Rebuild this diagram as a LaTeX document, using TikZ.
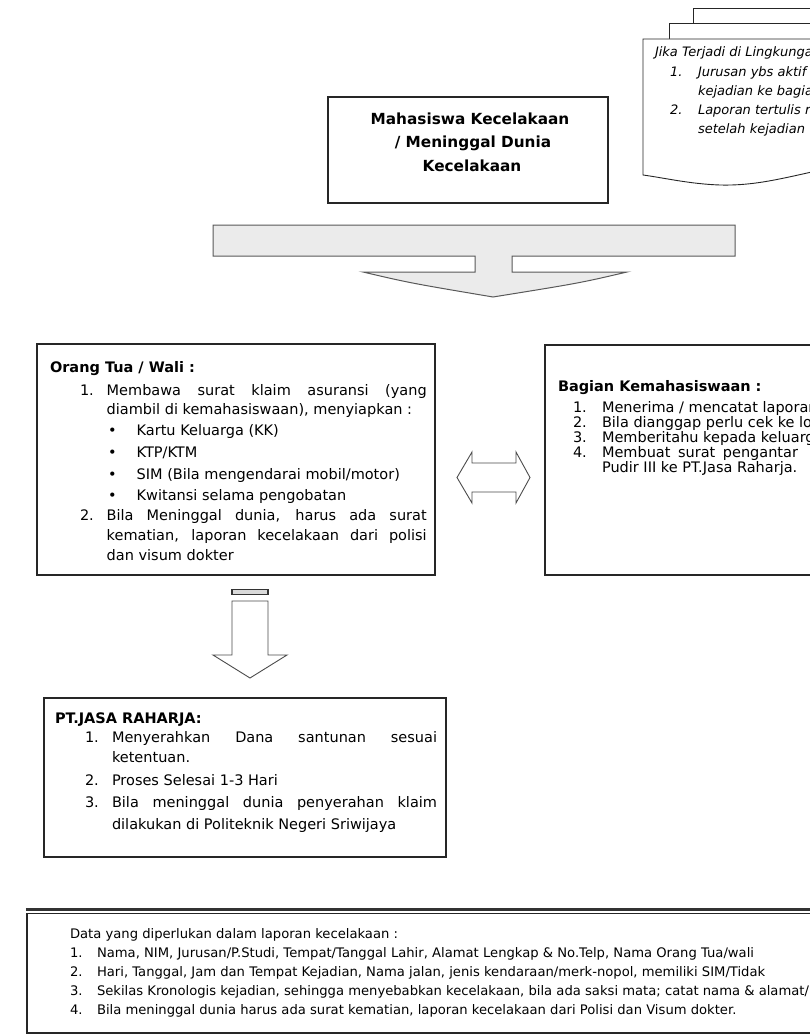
\documentclass[tikz,border=0pt]{standalone}
\usepackage{fontspec}
\setmainfont{DejaVu Sans}
\newcommand\jline[2]{\makebox[#1][s]{#2}}
\begin{document}
\begin{tikzpicture}[x=1pt,y=-1pt,
  txt/.style={anchor=base west,inner sep=0pt,outer sep=0pt,font=\fontsize{14.5}{17}\selectfont},
  hd/.style={txt,font=\fontsize{14.5}{17}\selectfont\bfseries},
  ttl/.style={anchor=base,inner sep=0pt,outer sep=0pt,font=\fontsize{15.3}{18}\selectfont\bfseries},
  sm/.style={txt,font=\fontsize{13.15}{15}\selectfont},
  itx/.style={txt,font=\fontsize{13}{16}\selectfont\itshape},
  frame/.style={draw=black!85,line width=1.1pt,fill=white},
  blockarrow/.style={draw=black!70,line width=0.9pt,fill=white},
  bigarrow/.style={draw=black!65,line width=1pt,fill=black!8}]
\useasboundingbox (0,0) rectangle (810,1035);
\fill[white] (0,0) rectangle (810,1035);
\clip (0,0) rectangle (810,1035);

% stacked document sheets, top right
\draw[frame,line width=0.9pt] (693,8) rectangle (840,120);
\draw[frame,line width=0.9pt] (669,23) rectangle (840,120);
\draw[frame,line width=0.9pt] (643,39) -- (840,39) -- (840,166)
   .. controls (790,176) and (760,186) .. (720,185)
   .. controls (690,184) and (665,178) .. (643,175) -- cycle;
\node[itx] (d0) at (655,57) {Jika Terjadi di Lingkungan};
\node[itx] (d1n) at (670,77) {1.};
\node[itx] (d1) at (698,77) {Jurusan ybs aktif melaporkan};
\node[itx] (d1b) at (698,96) {kejadian ke bagian};
\node[itx] (d2n) at (670,115) {2.};
\node[itx] (d2) at (698,115) {Laporan tertulis resmi};
\node[itx] (d2b) at (698,134) {setelah kejadian};

% start box
\draw[frame] (328,97) rectangle (608,203);
\node[ttl] (t1) at (470,125) {Mahasiswa Kecelakaan};
\node[ttl] (t2) at (473,148) {/ Meninggal Dunia};
\node[ttl] (t3) at (472,171.5) {Kecelakaan};

% wide grey distribution arrow
\draw[bigarrow] (213,225) -- (735,225) -- (735,256) -- (512,256) -- (512,272)
  -- (627,272) .. controls (580,283) .. (493,297) .. controls (410,283) .. (363,272)
  -- (475,272) -- (475,256) -- (213,256) -- cycle;

% parent / guardian box
\draw[frame] (37,344) rectangle (435,575);
\node[hd] (o0) at (50,372) {Orang Tua / Wali :};
\node[txt] (o1n) at (80,395) {1.};
\node[txt] (o1) at (106.7,395) {\jline{320pt}{Membawa surat klaim asuransi (yang}};
\node[txt] (o1b) at (106.7,414) {diambil di kemahasiswaan), menyiapkan :};
\node[txt] (b1) at (108,435) {•};
\node[txt] (b1t) at (136.7,435) {Kartu Keluarga (KK)};
\node[txt] (b2) at (108,457) {•};
\node[txt] (b2t) at (136.7,457) {KTP/KTM};
\node[txt] (b3) at (108,479) {•};
\node[txt] (b3t) at (136.7,479) {SIM (Bila mengendarai mobil/motor)};
\node[txt] (b4) at (108,500) {•};
\node[txt] (b4t) at (136.7,500) {Kwitansi selama pengobatan};
\node[txt] (o2n) at (80,520) {2.};
\node[txt] (o2) at (106.7,520) {\jline{320pt}{Bila Meninggal dunia, harus ada surat}};
\node[txt] (o2b) at (106.7,540) {\jline{320pt}{kematian, laporan kecelakaan dari polisi}};
\node[txt] (o2c) at (106.7,560) {dan visum dokter};

% two-way arrow between the boxes
\draw[blockarrow] (457,477.5) -- (472,452) -- (472,463) -- (516,463) -- (516,452)
  -- (530,477.5) -- (516,503) -- (516,492) -- (472,492) -- (472,503) -- cycle;

% student affairs box
\draw[frame] (545,345) rectangle (840,575);
\node[hd] (k0) at (558,391.7) {Bagian Kemahasiswaan :};
\node[txt] (k1n) at (573,412) {1.};
\node[txt] (k1) at (602,412) {Menerima / mencatat laporan};
\node[txt] (k2n) at (573,427) {2.};
\node[txt] (k2) at (602,427) {Bila dianggap perlu cek ke lokasi};
\node[txt] (k3n) at (573,442) {3.};
\node[txt] (k3) at (602,442) {Memberitahu kepada keluarga};
\node[txt] (k4n) at (573,457) {4.};
\node[txt] (k4) at (602,457) {\jline{196pt}{Membuat surat pengantar}};
\node[txt] (k4b) at (602,472) {Pudir III ke PT.Jasa Raharja.};

% down arrow to the insurer
\draw[draw=black!80,line width=1.4pt,fill=black!15] (232,589.5) rectangle (268,594.5);
\draw[blockarrow] (232,601) -- (268,601) -- (268,655) -- (287,655) -- (250,678)
  -- (213,655) -- (232,655) -- cycle;

% insurer box
\draw[frame] (44,698) rectangle (446,857);
\node[hd] (p0) at (55,723) {PT.JASA RAHARJA:};
\node[txt] (p1n) at (85,742) {1.};
\node[txt] (p1) at (112,742) {\jline{325pt}{Menyerahkan Dana santunan sesuai}};
\node[txt] (p1b) at (112,762) {ketentuan.};
\node[txt] (p2n) at (85,785) {2.};
\node[txt] (p2) at (112,785) {Proses Selesai 1-3 Hari};
\node[txt] (p3n) at (85,807) {3.};
\node[txt] (p3) at (112,807) {\jline{325pt}{Bila meninggal dunia penyerahan klaim}};
\node[txt] (p3b) at (112,829) {dilakukan di Politeknik Negeri Sriwijaya};

% required data note
\draw[draw=black!85,line width=1.2pt,fill=white] (27,913.5) rectangle (840,1033);
\draw[black!80,line width=2.4pt] (25.8,909.5) -- (840,909.5);
\node[sm] (n0) at (70,938) {Data yang diperlukan dalam laporan kecelakaan :};
\node[sm] (n1n) at (70,957) {1.};
\node[sm] (n1) at (97,957) {Nama, NIM, Jurusan/P.Studi, Tempat/Tanggal Lahir, Alamat Lengkap \& No.Telp, Nama Orang Tua/wali};
\node[sm] (n2n) at (70,976) {2.};
\node[sm] (n2) at (97,976) {Hari, Tanggal, Jam dan Tempat Kejadian, Nama jalan, jenis kendaraan/merk-nopol, memiliki SIM/Tidak};
\node[sm] (n3n) at (70,995) {3.};
\node[sm] (n3) at (97,995) {Sekilas Kronologis kejadian, sehingga menyebabkan kecelakaan, bila ada saksi mata; catat nama \& alamat/ no.telp};
\node[sm] (n4n) at (70,1014) {4.};
\node[sm] (n4) at (97,1014) {Bila meninggal dunia harus ada surat kematian, laporan kecelakaan dari Polisi dan Visum dokter.};
\end{tikzpicture}
\end{document}
